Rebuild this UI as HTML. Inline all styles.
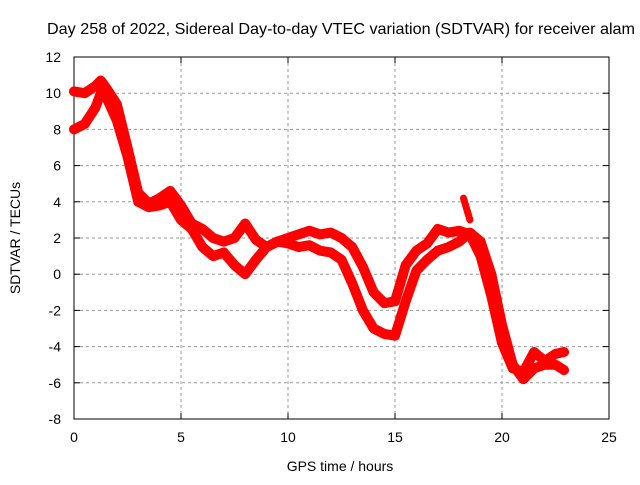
<!DOCTYPE html>
<html><head><meta charset="utf-8"><style>
body{margin:0;background:#fff;}
svg{font-family:"Liberation Sans",sans-serif;}
</style></head><body>
<svg id="chart" width="640" height="480" viewBox="0 0 640 480">
<rect width="640" height="480" fill="#fff"/>
<text x="47" y="34" font-size="16" fill="#000" textLength="588" lengthAdjust="spacingAndGlyphs">Day 258 of 2022, Sidereal Day-to-day VTEC variation (SDTVAR) for receiver alam</text>
<g id="grid"></g>
<g id="axes"></g>
<g id="series"></g>
<text x="340" y="471" text-anchor="middle" font-size="14">GPS time / hours</text>
<text x="20" y="238" text-anchor="middle" font-size="14" transform="rotate(-90 20 238)">SDTVAR / TECUs</text>
</svg>
<script>
const hours=[0,0.5,1,1.25,1.5,2,2.5,3,3.5,4,4.5,5,5.5,6,6.5,7,7.5,8,8.5,9,9.5,10,10.5,11,11.5,12,12.5,13,13.5,14,14.5,15,15.5,16,16.5,17,17.5,18,18.5,19,19.5,20,20.5,21,21.5,22,22.5,22.9];
const upperBand=[10.1,10.0,10.4,10.7,10.3,9.4,7,4.5,3.9,4.2,4.6,3.8,2.8,2.5,2.0,1.8,2.0,2.8,1.9,1.5,1.8,2.0,2.2,2.4,2.2,2.3,2.0,1.5,0.4,-1,-1.6,-1.5,0.5,1.3,1.7,2.5,2.3,2.4,2.2,1.0,-1.2,-3.8,-5.2,-5.4,-4.3,-4.8,-4.4,-4.3];
const lowerBand=[8.0,8.3,9.2,10.0,9.8,8.5,6.5,4.0,3.7,3.8,4.0,3.0,2.5,1.5,1.0,1.2,0.5,0.0,0.8,1.5,1.8,1.7,1.5,1.6,1.3,1.2,0.8,-0.5,-2.0,-3.0,-3.3,-3.4,-1.5,0.2,0.8,1.3,1.5,1.8,2.3,1.8,0.0,-2.8,-5.0,-5.8,-5.2,-5.0,-5.0,-5.3];
const spikeHours=[18.2,18.5];
const spikeValues=[4.2,3.0];
const xTicks=[0,5,10,15,20,25];
const yTicks=[-8,-6,-4,-2,0,2,4,6,8,10,12];
const L=74,R=609,T=57,B=419;
const sx=h=>L+h/25*(R-L);
const sy=v=>T+(12-v)/20*(B-T);
const NS="http://www.w3.org/2000/svg";
function mk(tag,parent,attrs){const e=document.createElementNS(NS,tag);for(const k in attrs)e.setAttribute(k,attrs[k]);parent.appendChild(e);return e;}
const grid=document.getElementById('grid'),axes=document.getElementById('axes'),ser=document.getElementById('series');
xTicks.forEach(t=>{
 if(t>0&&t<25){const g=mk('line',grid,{x1:sx(t),x2:sx(t),y1:T,y2:B,stroke:'#999','stroke-dasharray':'3,3'});
 
 }
 const tx=mk('text',axes,{x:sx(t),y:B+23,'text-anchor':'middle','font-size':'14'});tx.textContent=t;
 
 
 mk('line',axes,{x1:sx(t),x2:sx(t),y1:B,y2:B-6,stroke:'#000'});
 mk('line',axes,{x1:sx(t),x2:sx(t),y1:T,y2:T+6,stroke:'#000'});
});
yTicks.forEach(t=>{
 if(t>-8&&t<12){const g=mk('line',grid,{x1:L,x2:R,y1:sy(t),y2:sy(t),stroke:'#999','stroke-dasharray':'3,3'});
 
 }
 const tx=mk('text',axes,{x:L-13,y:sy(t)+5,'text-anchor':'end','font-size':'14'});tx.textContent=t;
 
 
 mk('line',axes,{x1:L,x2:L+6,y1:sy(t),y2:sy(t),stroke:'#000'});
 mk('line',axes,{x1:R,x2:R-6,y1:sy(t),y2:sy(t),stroke:'#000'});
});
const fr=mk('rect',axes,{x:L,y:T,width:R-L,height:B-T,fill:'none',stroke:'#000'});


function drawBand(vals,name){
 const p=mk('polyline',ser,{points:hours.map((h,i)=>sx(h)+','+sy(vals[i])).join(' '),fill:'none',stroke:'#f00','stroke-width':10,'stroke-linejoin':'round','stroke-linecap':'round'});
 
 
}
drawBand(upperBand,'sdtvar-upper-trace');
drawBand(lowerBand,'sdtvar-lower-trace');
const sp=mk('polyline',ser,{points:spikeHours.map((h,i)=>sx(h)+','+sy(spikeValues[i])).join(' '),fill:'none',stroke:'#f00','stroke-width':7,'stroke-linecap':'round'});


</script>
</body></html>
